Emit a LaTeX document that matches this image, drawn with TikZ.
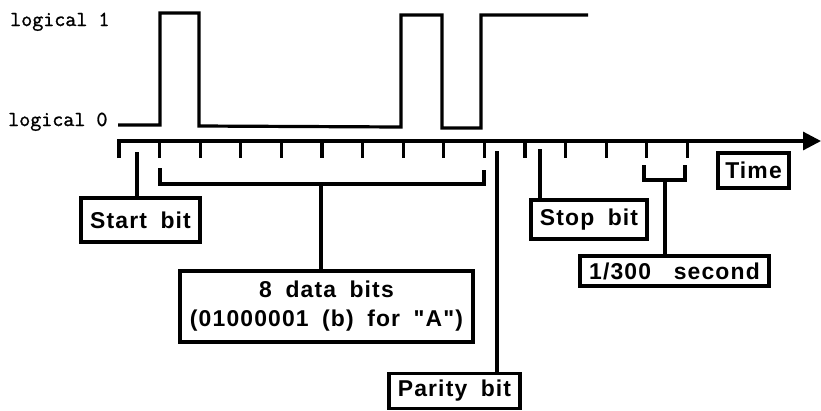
\documentclass[tikz,border=0pt]{standalone}
\usepackage{fontspec}
\setmainfont{Liberation Sans}
\newfontfamily\boxfont{Liberation Sans}[LetterSpace=5, WordSpace=1.8]
\newfontfamily\levelfont{Latin Modern Mono}[FakeBold=1.2]
\usetikzlibrary{arrows.meta}
\tikzset{
  lbox/.style={rectangle, draw, line width=3.2bp, inner sep=0pt, align=center,
               font=\boxfont\bfseries\fontsize{23}{29}\selectfont},
  conn/.style={line width=3.2bp},
  sig/.style={line width=3.2bp, line join=miter},
  lvl/.style={anchor=base west, inner sep=0pt,
              font=\levelfont\fontsize{21.5}{23}\selectfont},
}

\begin{document}
\begin{tikzpicture}[x=1bp, y=-1bp]
  \useasboundingbox (0,0) rectangle (821,410);
  % levels
  \node[lvl] (one) at (10,26) {logical 1};
  \node[lvl] (zero) at (8,126) {logical 0};
  % signal for "A"
  \draw[sig] (118,125) -- (160,125) -- (160,13) -- (199,13) -- (199,126)
    -- (401,127) -- (401,15) -- (442,15) -- (442,128) -- (481,128)
    -- (481,15) -- (588,15);
  % time axis
  \draw[conn, -{Triangle[length=18bp, width=18bp]}]
    (119,158) -- (119,141) -- (821,141);
  \foreach \i in {1,...,14}
    \draw[conn] (119+40.6*\i,141) -- ++(0,17);

  % boxes
  \node[lbox, minimum width=119bp, minimum height=44bp] (start) at (140.5,220) {Start bit};
  \node[lbox, minimum width=293bp, minimum height=71bp] (data) at (326.5,306.5)
    {8 data bits\\(01000001 (b) for "A")};
  \node[lbox, minimum width=131bp, minimum height=35bp] (parity) at (454.5,391) {Parity bit};
  \node[lbox, minimum width=116bp, minimum height=39bp] (stop) at (589,219.5) {Stop bit};
  \node[lbox, minimum width=189bp, minimum height=30bp] (sec) at (674.5,271) {1/300\hspace{0.4em} second};
  \node[lbox, minimum width=71bp, minimum height=35bp] (time) at (753.5,170.5) {Time};

  % connectors
  \coordinate (sb) at (137,152);
  \draw[conn] (sb) -- (sb |- start.north);
  \coordinate (dl) at (160,168);
  \coordinate (dr) at (484,170);
  \coordinate (dm) at (321,184);
  \draw[conn] (dl) |- (dr |- dm) -- (dr);
  \draw[conn] (dm) -- (dm |- data.north);
  \coordinate (pb) at (497,151);
  \draw[conn] (pb) -- (pb |- parity.north);
  \coordinate (stb) at (540,149);
  \draw[conn] (stb) -- (stb |- stop.north);
  \coordinate (sl) at (644,165);
  \coordinate (sr) at (685,165);
  \coordinate (sm) at (665,180);
  \draw[conn] (sl) |- (sr |- sm) -- (sr);
  \draw[conn] (sm) -- (sm |- sec.north);
\end{tikzpicture}
\end{document}
